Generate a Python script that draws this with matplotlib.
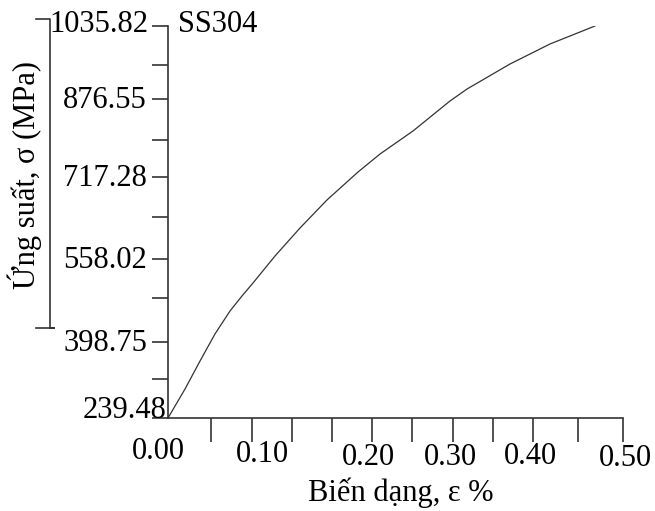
import matplotlib
matplotlib.use("Agg")
import matplotlib.pyplot as plt
from matplotlib.lines import Line2D
import numpy as np

# Duong cong ung suat - bien dang SS304
strain = [0.000, 0.0187, 0.0352, 0.0516, 0.0681, 0.0813, 0.0934, 0.1176,
          0.1451, 0.1747, 0.2088, 0.2330, 0.2692, 0.3099, 0.3286, 0.3758,
          0.4198, 0.4692]
stress = [239.5, 298.4, 355.3, 410.1, 456.8, 487.3, 513.7, 568.6,
          625.5, 682.4, 739.2, 775.8, 822.5, 883.5, 907.8, 958.6,
          999.3, 1035.8]

ytick_labels = ["239.48", "398.75", "558.02", "717.28", "876.55", "1035.82"]
xtick_labels = ["0.00", "0.10", "0.20", "0.30", "0.40", "0.50"]

W, H = 655, 511
x0, x1 = 168, 623     # pixel cua truc x
y0, y1 = 418, 26      # pixel cua truc y
ymin, ymax = 239.48, 1035.82

plt.rcParams['font.family'] = ['Liberation Serif', 'DejaVu Serif']

fig = plt.figure(figsize=(W / 100, H / 100), dpi=100)
ax = fig.add_axes([x0 / W, 1 - y0 / H, (x1 - x0) / W, (y0 - y1) / H])

ax.plot(strain, stress, color='#333333', lw=0.9)
ax.set_xlim(0, 0.5)
ax.set_ylim(ymin, ymax)

for s in ['top', 'right']:
    ax.spines[s].set_visible(False)
for s in ['left', 'bottom']:
    ax.spines[s].set_color('#333333')
    ax.spines[s].set_linewidth(1.2)


def px2y(py):
    return ymin + (y0 - py) / (y0 - y1) * (ymax - ymin)


def px2x(pxx):
    return (pxx - x0) / (x1 - x0) * 0.5


# vach chia truc y (vi tri do tu hinh)
ymaj_px = [418, 342, 259, 177, 99, 26]
ymin_px = [379, 298, 217, 140, 65]
yt = sorted([px2y(p) for p in ymaj_px + ymin_px])
ax.set_yticks(yt)
ax.set_yticklabels([])
ax.tick_params(axis='y', direction='out', length=11.5, width=1.2, color='#333333')

# vach chia truc x
xt_px = [211, 252, 292, 332, 372, 412, 453, 493, 533, 578, 623]
ax.set_xticks([px2x(p) for p in xt_px])
ax.set_xticklabels([])
ax.tick_params(axis='x', direction='out', length=17.5, width=1.2, color='#333333')

fs = 22


def ftext(xp, yp, s, **kw):
    fig.text(xp / W, 1 - yp / H, s, fontsize=fs, color='black', **kw)


# nhan truc y
for p, lab in zip(ymaj_px, ytick_labels):
    if lab == "239.48":
        ftext(167, 418, lab, ha='right', va='baseline')
    elif lab == "1035.82":
        ftext(148, 24, lab, ha='right', va='center')
    else:
        ftext(147, p + 1, lab, ha='right', va='center')

# nhan truc x (vi tri do tu hinh)
xlab_px = [158, 262, 368, 450, 530, 625]
xlab_py = [451, 454, 457, 457, 456, 458]
for xp, yp, lab in zip(xlab_px, xlab_py, xtick_labels):
    ftext(xp, yp, lab, ha='center', va='center')

ftext(178, 24, "SS304", ha='left', va='center')
ftext(401, 493, "Biến dạng, ε %", ha='center', va='center')
ftext(25, 175, "Ứng suất, σ (MPa)", ha='center', va='center', rotation=90)

# ngoac ben trai nhan truc y
bracket = Line2D([36 / W, 50 / W, 50 / W, 54 / W, 36 / W],
                 [1 - 19 / H, 1 - 19 / H, 1 - 328 / H, 1 - 328 / H, 1 - 328 / H],
                 transform=fig.transFigure, color='#333333', lw=1.2)
fig.add_artist(bracket)

fig.savefig("out.png", dpi=100)
